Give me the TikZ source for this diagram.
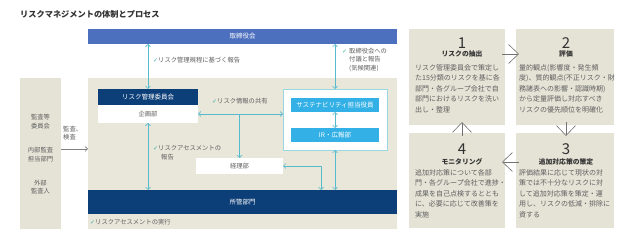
\documentclass[tikz,border=0pt]{standalone}
\usepackage{fontspec}
\setmainfont{Noto Sans CJK JP}
\newfontfamily\symfont{DejaVu Sans}
\usetikzlibrary{arrows.meta}
\definecolor{boardblue}{RGB}{76,111,190}
\definecolor{navy}{RGB}{12,62,120}
\definecolor{lblue}{RGB}{51,176,230}
\definecolor{beige}{RGB}{233,230,218}
\definecolor{procbg}{RGB}{229,227,214}
\definecolor{teal}{RGB}{86,187,204}
\definecolor{chk}{RGB}{60,178,170}
\definecolor{txt}{RGB}{95,95,95}
\definecolor{dark}{RGB}{50,50,50}
\newcommand\chk{{\symfont\color{chk}\fontsize{6}{6}\selectfont ✓}}
\begin{document}
\begin{tikzpicture}[x=1pt,y=-1pt,
  box/.style={rectangle,inner sep=0pt,outer sep=0pt},
  lbl/.style={font=\fontsize{6.3}{8.5}\selectfont,text=txt,inner sep=0pt},
  barlbl/.style={font=\fontsize{6.5}{8}\selectfont,text=white},
  tarrow/.style={teal,line width=0.6pt,{Straight Barb[length=2.5pt,width=5pt]}-{Straight Barb[length=2.5pt,width=5pt]}},
  tarrowone/.style={teal,line width=0.6pt,-{Straight Barb[length=2.5pt,width=5pt]}},
  parrow/.style={black!55,line width=0.6pt,-{Straight Barb[length=10pt,width=19pt]},shorten >=-3pt,shorten <=-3pt},
  procbox/.style={box,fill=procbg},
  num/.style={font=\fontsize{15}{15}\selectfont,text=dark,inner sep=0pt},
  ptitle/.style={font=\bfseries\fontsize{6.8}{7}\selectfont,text=dark,inner sep=0pt},
  body/.style={font=\fontsize{7}{10.5}\selectfont,text=txt,inner sep=0pt,align=left,anchor=north west}
]
\useasboundingbox[fill=white] (0,0) rectangle (627,240);

% title
\node[anchor=west,inner sep=0pt,font=\bfseries\fontsize{8.2}{9}\selectfont,text=dark] (title) at (20,14) {リスクマネジメントの体制とプロセス};

% backgrounds
\node[box,fill=procbg,minimum width=41pt,minimum height=151pt] (audit) at (40.5,153.5) {};
\node[box,fill=beige,minimum width=309pt,minimum height=151pt] (area) at (242.5,153.5) {};
\node[box,fill=boardblue,minimum width=309pt,minimum height=15pt,barlbl] (board) at (242.5,36.5) {取締役会};
\node[box,fill=navy,minimum width=309pt,minimum height=24pt,barlbl] (shokan) at (242.5,202) {所管部門};

% left audit texts
\node[lbl,align=center] (a1) at (40.5,121.5) {監査等\\委員会};
\node[lbl,align=center] (a2) at (40.5,154.5) {内部監査\\担当部門};
\node[lbl,align=center] (a3) at (40.5,187) {外部\\監査人};
\node[lbl,align=left,anchor=north west] (a4) at (63,126) {監査、\\検査};
\coordinate (ay) at (0,149);
\draw[black!50,line width=0.6pt,-{Straight Barb[length=2.5pt,width=5pt]}] (audit.east |- ay) -- (area.west |- ay);

% committee
\node[box,fill=navy,minimum width=100pt,minimum height=16pt,barlbl] (riskcom) at (148,97) {リスク管理委員会};
\node[box,fill=white,minimum width=100pt,minimum height=18pt,lbl] (kikaku) at (148,114) {企画部};

% sustainability container
\node[box,fill=white,draw=teal!60,line width=0.4pt,minimum width=104pt,minimum height=61pt] (wbox) at (335,119.5) {};
\node[box,fill=lblue,minimum width=88pt,minimum height=14pt,barlbl] (sus) at (335,105) {サステナビリティ担当役員};
\node[box,fill=lblue,minimum width=88pt,minimum height=14pt,barlbl] (ir) at (335,135) {IR・広報部};

% keiri
\node[box,fill=white,minimum width=87pt,minimum height=16pt,lbl] (keiri) at (239.5,166) {経理部};

% connectors
\draw[tarrow] (board.south -| riskcom.north) -- (riskcom.north);
\draw[tarrow] (board.south -| wbox.north) -- (wbox.north);
\draw[tarrow] (kikaku.south) -- (kikaku.south |- shokan.north);
\draw[tarrow] (kikaku.east) -- (kikaku.east -| wbox.west);
\coordinate (jn) at (keiri.north |- kikaku.east);
\draw[tarrowone] (jn) -- (keiri.north);
\draw[tarrow] (sus.south) -- (ir.north);
\draw[tarrow] (wbox.south) -- (wbox.south |- shokan.north);
\coordinate (kx) at (321,0);
\draw[tarrow] (keiri.east) -| (kx |- shokan.north);

% labels
\node[lbl,anchor=west] (l1) at (153,60) {\chk リスク管理規程に基づく報告};
\node[lbl,anchor=west] (l2c) at (342,52) {\chk};
\node[lbl,anchor=north west,align=left] (l2) at (349,48) {取締役会への\\付議と報告\\(気候関連)};
\node[lbl,anchor=west] (l3) at (212,101) {\chk リスク情報の共有};
\node[lbl,anchor=west] (l4) at (153,148) {\chk リスクアセスメントの};
\node[lbl,anchor=west] (l4b) at (161,157) {報告};
\node[lbl,anchor=west] (l5) at (90,222) {\chk リスクアセスメントの実行};

% process boxes
\node[procbox,minimum width=96pt,minimum height=96pt] (p1) at (457,77) {};
\node[procbox,minimum width=98pt,minimum height=96pt] (p2) at (565,77) {};
\node[procbox,minimum width=96pt,minimum height=95pt] (p4) at (457,180.5) {};
\node[procbox,minimum width=98pt,minimum height=95pt] (p3) at (565,180.5) {};

\node[num] (n1) at (462,43.5) {1};
\node[ptitle] (t1) at (462,54) {リスクの抽出};
\node[body] (b1) at (415,64) {リスク管理委員会で策定し\\た15分類のリスクを基に各\\部門・各グループ会社で自\\部門におけるリスクを洗い\\出し・整理};

\node[num] (n2) at (566,43.5) {2};
\node[ptitle] (t2) at (566,54) {評価};
\node[body] (b2) at (519,64) {量的観点(影響度・発生頻\\度)、質的観点(不正リスク・財\\務諸表への影響・認識時期)\\から定量評価し対応すべき\\リスクの優先順位を明確化};

\node[num] (n4) at (462,149) {4};
\node[ptitle] (t4) at (462,162) {モニタリング};
\node[body] (b4) at (415,169) {追加対応策について各部\\門・各グループ会社で進捗・\\成果を自己点検するととも\\に、必要に応じて改善策を\\実施};

\node[num] (n3) at (566,149) {3};
\node[ptitle] (t3) at (566,162) {追加対応策の策定};
\node[body] (b3) at (519,169) {評価結果に応じて現状の対\\策では不十分なリスクに対\\して追加対応策を策定・運\\用し、リスクの低減・排除に\\資する};

\coordinate (c12) at (0,54);
\draw[parrow] (p1.east |- c12) -- (p2.west |- c12);
\draw[parrow] (p2.south -| n2) -- (p3.north -| n3);
\coordinate (c34) at (0,162);
\draw[parrow] (p3.west |- c34) -- (p4.east |- c34);
\draw[parrow] (p4.north -| n4) -- (p1.south -| n1);
\end{tikzpicture}
\end{document}
